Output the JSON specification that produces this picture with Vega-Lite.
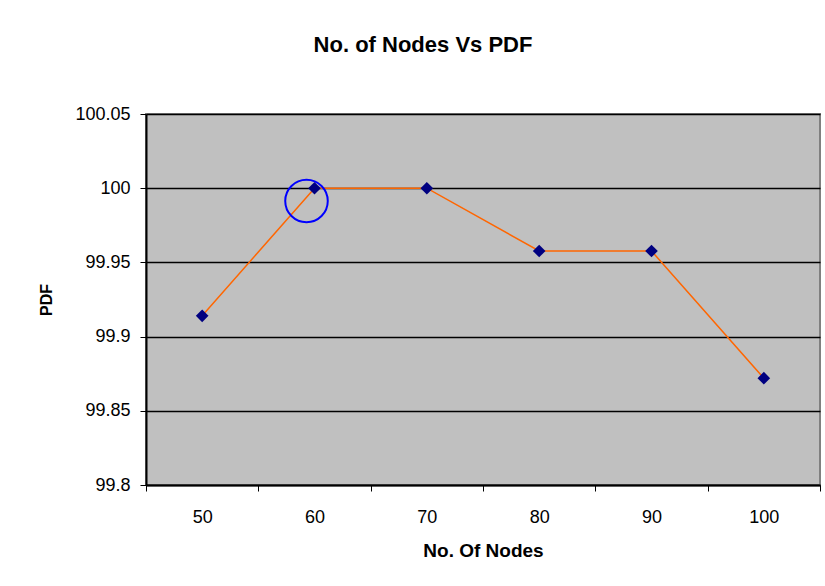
{
  "$schema": "https://vega.github.io/schema/vega-lite/v6.json",
  "autosize": "none",
  "width": 674,
  "height": 371,
  "padding": {"left": 146, "top": 114, "right": 5, "bottom": 100},
  "background": "white",
  "title": {
    "text": "No. of Nodes Vs PDF",
    "font": "Liberation Sans",
    "fontSize": 22,
    "fontWeight": "bold",
    "color": "black",
    "anchor": "middle",
    "dx": -60,
    "offset": 48
  },
  "config": {
    "view": {"fill": "#C0C0C0", "stroke": "#808080", "strokeWidth": 2},
    "font": "Liberation Sans"
  },
  "datasets": {
    "main": [
      {"nodes": 50, "pdf": 99.914},
      {"nodes": 60, "pdf": 100.0},
      {"nodes": 70, "pdf": 100.0},
      {"nodes": 80, "pdf": 99.9577},
      {"nodes": 90, "pdf": 99.9577},
      {"nodes": 100, "pdf": 99.872}
    ],
    "mark": [
      {"nodes": 60, "pdf": 99.9914}
    ]
  },
  "encoding": {
    "x": {
      "field": "nodes",
      "type": "ordinal",
      "scale": {"type": "band", "paddingInner": 0, "paddingOuter": 0},
      "axis": {
        "title": "No. Of Nodes",
        "titleFont": "Liberation Sans",
        "titleFontSize": 19,
        "titleFontWeight": "bold",
        "titleColor": "black",
        "titlePadding": 15,
        "labelFont": "Liberation Sans",
        "labelFontSize": 18,
        "labelColor": "black",
        "labelAngle": 0,
        "labelPadding": 17,
        "tickBand": "extent",
        "tickColor": "black",
        "tickSize": 6,
        "tickWidth": 1,
        "domainColor": "black",
        "domainWidth": 2,
        "grid": false
      }
    },
    "y": {
      "field": "pdf",
      "type": "quantitative",
      "scale": {"domain": [99.8, 100.05], "zero": false, "nice": false},
      "axis": {
        "title": "PDF",
        "titleFont": "Liberation Sans",
        "titleFontSize": 16,
        "titleFontWeight": "bold",
        "titleColor": "black",
        "titlePadding": 20,
        "labelFont": "Liberation Sans",
        "labelFontSize": 18,
        "labelColor": "black",
        "labelPadding": 10,
        "values": [99.8, 99.85, 99.9, 99.95, 100, 100.05],
        "format": "~r",
        "tickColor": "black",
        "tickSize": 6,
        "tickWidth": 1,
        "domainColor": "black",
        "domainWidth": 2,
        "grid": true,
        "gridColor": "black",
        "gridWidth": 1.5,
        "gridOpacity": 1
      }
    }
  },
  "layer": [
    {
      "data": {"name": "main"},
      "mark": {"type": "line", "color": "#FF6600", "strokeWidth": 1.5}
    },
    {
      "data": {"name": "main"},
      "mark": {"type": "point", "shape": "diamond", "filled": true, "color": "#000080", "size": 160, "opacity": 1}
    },
    {
      "data": {"name": "mark"},
      "mark": {"type": "point", "shape": "circle", "filled": false, "color": "#0000FF", "strokeWidth": 2, "size": 1810, "opacity": 1, "xOffset": -8}
    }
  ]
}
